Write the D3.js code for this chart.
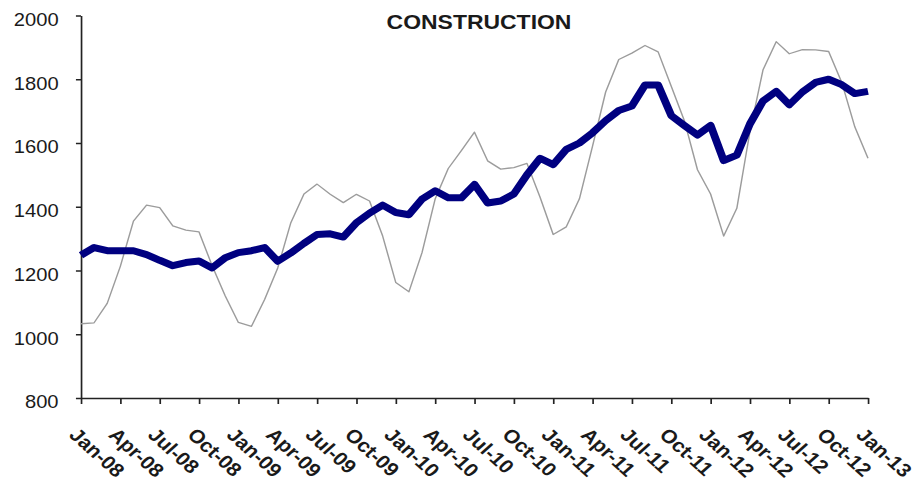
<!DOCTYPE html>
<html>
<head>
<meta charset="utf-8">
<script src="https://cdn.jsdelivr.net/npm/d3@7"></script>
<style>
  body { margin: 0; background: #fff; }
  svg { display: block; }
  text { font-family: "Liberation Sans", Arial, sans-serif; }
</style>
</head>
<body>
<svg id="chart"></svg>
<script>
// monthly values Jan-08 .. Jan-13
const original = [1033, 1036, 1097, 1213, 1355, 1405, 1397, 1340, 1327, 1321, 1215, 1120,
    1037, 1025, 1109, 1208, 1350, 1440, 1471, 1439, 1413, 1439, 1418, 1308,
    1162, 1133, 1256, 1424, 1520, 1576, 1634, 1544, 1518, 1523, 1536, 1430,
    1313, 1337, 1425, 1590, 1760, 1862, 1882, 1906, 1886, 1778, 1670, 1516,
    1440, 1308, 1395, 1636, 1830, 1918, 1880, 1893, 1892, 1887, 1790, 1650,
    1552]
const adjusted = [1248, 1272, 1262, 1262, 1262, 1250, 1232, 1215, 1225, 1230, 1208, 1240,
    1256, 1262, 1272, 1229, 1255, 1285, 1313, 1315, 1305, 1350, 1380, 1405,
    1382, 1375, 1424, 1450, 1428, 1428, 1470, 1412, 1418, 1440, 1500, 1552,
    1532, 1580, 1600, 1632, 1670, 1702, 1716, 1782, 1782, 1686, 1655, 1625,
    1655, 1545, 1562, 1660, 1732, 1762, 1720, 1760, 1790, 1800, 1783, 1755,
    1762]
const tickLabels = ['Jan-08', 'Apr-08', 'Jul-08', 'Oct-08', 'Jan-09', 'Apr-09', 'Jul-09', 'Oct-09',
    'Jan-10', 'Apr-10', 'Jul-10', 'Oct-10', 'Jan-11', 'Apr-11', 'Jul-11', 'Oct-11',
    'Jan-12', 'Apr-12', 'Jul-12', 'Oct-12', 'Jan-13']
const yTicks = [800, 1000, 1200, 1400, 1600, 1800, 2000]
const title = 'CONSTRUCTION'

// the original picture is a bit stretched sideways, so draw narrower and stretch
const stretch = 1.12
const W = 917 / stretch, H = 483
const svg = d3.select('#chart')
    .attr('width', 917).attr('height', H)
    .attr('viewBox', `0 0 ${W} ${H}`)
    .attr('preserveAspectRatio', 'none')

const x = d3.scaleLinear().domain([0, original.length - 1]).range([72.3, 775])
const y = d3.scaleLinear().domain([800, 2000]).range([398, 15.5])

svg.append('text')
    .attr('x', 427.7).attr('y', 29)
    .attr('text-anchor', 'middle')
    .style('font-weight', 'bold').style('font-size', '20.5px').style('fill', '#1a1a1a')
    .text(title)

// y axis
const yAxis = svg.append('g')
    .attr('transform', `translate(${x.range()[0]},0)`)
    .call(d3.axisLeft(y).tickValues(yTicks).tickSize(4.5).tickSizeOuter(0).tickPadding(15.5).tickFormat(d3.format('d')))
yAxis.selectAll('text').style('font-size', '18px').style('fill', '#1a1a1a').attr('dy', '0.55em')

// x axis
const xAxis = svg.append('g')
    .attr('transform', `translate(0,${y.range()[0]})`)
    .call(d3.axisBottom(x).tickValues(d3.range(0, original.length, 3)).tickSize(6).tickSizeOuter(0)
        .tickFormat((d, i) => tickLabels[i]))
xAxis.selectAll('text')
    .attr('x', 0).attr('y', 0).attr('dy', 0)
    .attr('transform', 'translate(-12,38) rotate(45)')
    .style('text-anchor', 'start')
    .style('font-size', '19px').style('font-weight', 'bold').style('fill', '#1a1a1a')

svg.selectAll('.domain, .tick line').attr('stroke', '#222').attr('stroke-width', 1.5)

const line = d3.line()
    .x((d, i) => x(i))
    .y(d => y(d))

svg.append('path')
    .datum(original)
    .attr('d', line)
    .attr('fill', 'none')
    .attr('stroke', '#9c9c9c')
    .attr('stroke-width', 1.3)
    .attr('stroke-linejoin', 'round')

svg.append('path')
    .datum(adjusted)
    .attr('d', line)
    .attr('fill', 'none')
    .attr('stroke', '#000080')
    .attr('stroke-width', 7)
    .attr('stroke-linejoin', 'round')
</script>
</body>
</html>
